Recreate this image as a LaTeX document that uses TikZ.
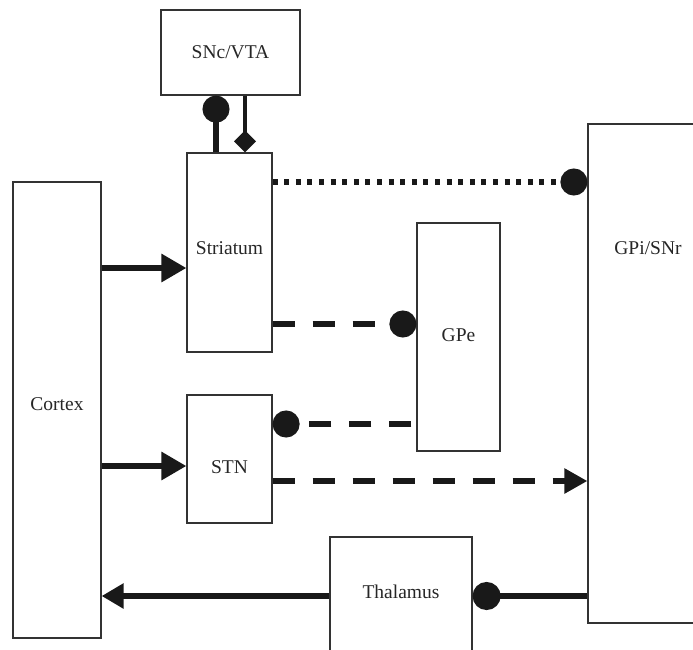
\documentclass[tikz,border=0pt]{standalone}
\usepackage{fontspec}
\setmainfont{Liberation Serif}
\usetikzlibrary{arrows.meta}
\begin{document}
\begin{tikzpicture}[x=1pt,y=-1pt,
  box/.style={draw=black!80, line width=1.2pt, inner sep=0pt},
  lab/.style={text=black!85, font=\fontsize{19.5}{22}\selectfont, inner sep=0pt},
  conn/.style={line width=6pt, draw=black!90},
  arr/.style={-{Triangle[length=25pt,width=27pt]}},
  dot/.style={-{Circle[length=27pt]}},
  dotted line/.style={dash pattern=on 5pt off 6.6pt},
  dashed line/.style={dash pattern=on 22pt off 18pt}]
\useasboundingbox (0,0) rectangle (693,649);
\clip (0,0) rectangle (693,649);

\node[box, minimum width=139pt, minimum height=85pt, label={[lab]center:SNc/VTA}] (snc) at (230.5,52.5) {};
\node[box, minimum width=85pt, minimum height=199pt, label={[lab,yshift=4.5pt]center:Striatum}] (str) at (229.5,252.5) {};
\node[box, minimum width=88pt, minimum height=456pt, label={[lab,yshift=6pt]center:Cortex}] (ctx) at (57,410) {};
\node[box, minimum width=83pt, minimum height=228pt, label={[lab,yshift=2pt]center:GPe}] (gpe) at (458.5,337) {};
\node[box, minimum width=85pt, minimum height=128pt, label={[lab,yshift=-8pt]center:STN}] (stn) at (229.5,459) {};
\node[box, minimum width=124pt, minimum height=499pt, label={[lab,xshift=-2pt,yshift=125.5pt]center:GPi/SNr}] (gpi) at (650,373.5) {};
\node[box, minimum width=142pt, minimum height=123pt, label={[lab,yshift=6.5pt]center:Thalamus}] (thal) at (401,598.5) {};

\coordinate (ya) at (0,268);
\coordinate (yb) at (0,466);
\coordinate (yc) at (0,182);
\coordinate (yd) at (0,324);
\coordinate (ye) at (0,424);
\coordinate (yf) at (0,481);
\coordinate (yg) at (0,596);
\coordinate (xa) at (216,0);
\coordinate (xb) at (245,0);

\draw[conn, arr] (ctx.east |- ya) -- (str.west |- ya);
\draw[conn, arr] (ctx.east |- yb) -- (stn.west |- yb);
\draw[conn, line width=5.5pt, dotted line, dot] (str.east |- yc) -- (gpi.west |- yc);
\draw[conn, line width=5.5pt, dashed line, dot] (str.east |- yd) -- (gpe.west |- yd);
\draw[conn, line width=5.5pt, dashed line, dash phase=35pt, dot] (gpe.west |- ye) -- (stn.east |- ye);
\draw[conn, line width=5.5pt, dashed line, -{Triangle[length=23pt,width=24pt]}] (stn.east |- yf) -- (gpi.west |- yf);
\draw[conn, -{Circle[length=28pt]}] (gpi.west |- yg) -- (thal.east |- yg);
\draw[conn, -{Triangle[length=22pt,width=24pt]}] (thal.west |- yg) -- (ctx.east |- yg);
\draw[conn, line width=6.5pt, dot] (str.north -| xa) -- (snc.south -| xa);
\draw[conn, line width=4.5pt, -{Diamond[length=22pt,width=22pt]}] (snc.south -| xb) -- (str.north -| xb);
\end{tikzpicture}
\end{document}
